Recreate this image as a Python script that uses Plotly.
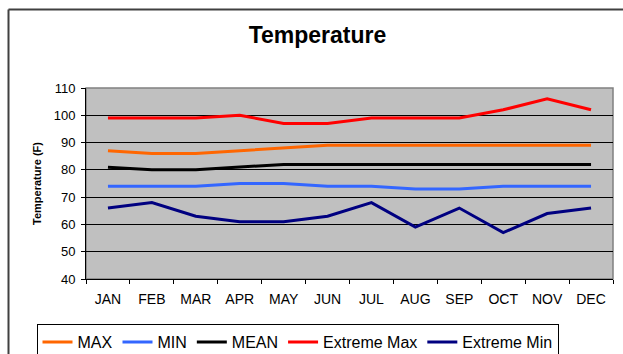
import plotly.graph_objects as go

months = ["JAN", "FEB", "MAR", "APR", "MAY", "JUN", "JUL", "AUG", "SEP", "OCT", "NOV", "DEC"]
t_max = [87, 86, 86, 87, 88, 89, 89, 89, 89, 89, 89, 89]
t_min = [74, 74, 74, 75, 75, 74, 74, 73, 73, 74, 74, 74]
t_mean = [81, 80, 80, 81, 82, 82, 82, 82, 82, 82, 82, 82]
ext_max = [99, 99, 99, 100, 97, 97, 99, 99, 99, 102, 106, 102]
ext_min = [66, 68, 63, 61, 61, 63, 68, 59, 66, 57, 64, 66]

series = [
    ("MAX", t_max, "#FF6600"),
    ("MIN", t_min, "#3366FF"),
    ("MEAN", t_mean, "#000000"),
    ("Extreme Max", ext_max, "#FF0000"),
    ("Extreme Min", ext_min, "#000080"),
]

FONT = "Liberation Sans, Arial, sans-serif"

fig = go.Figure()
for name, vals, col in series:
    fig.add_trace(go.Scatter(x=months, y=vals, name=name, mode="lines",
                             line=dict(color=col, width=3)))

W, H = 623, 354
L, R, T, B = 86, 10, 88, 75
pw, ph = W - L - R, H - T - B

def px_x(x):
    return (x - L) / pw

def px_y(y):
    return (H - B - y) / ph

fig.update_layout(
    width=W, height=H,
    margin=dict(l=L, r=R, t=T, b=B, autoexpand=False),
    paper_bgcolor="white",
    plot_bgcolor="#C0C0C0",
    font=dict(family=FONT, size=12, color="black"),
    title=dict(text="<b>Temperature</b>", x=317.5 / W, xanchor="center",
               y=1 - 27 / H, yanchor="top", font=dict(size=23, family=FONT)),
    showlegend=True,
    legend=dict(orientation="h", xref="container", yref="container",
                x=36.5 / W, xanchor="left", y=1 - 324 / H, yanchor="top",
                bordercolor="black", borderwidth=1, bgcolor="white",
                font=dict(size=16, family=FONT), tracegroupgap=0),
    xaxis=dict(type="category", range=[-0.5, 11.5], showgrid=False, automargin=False,
               ticks="outside", tickson="boundaries", ticklen=4, tickcolor="black",
               showline=True, linecolor="black", linewidth=1, mirror=False,
               ticklabelstandoff=7, tickfont=dict(size=14), fixedrange=True),
    yaxis=dict(range=[40, 110], dtick=10, showgrid=True, gridcolor="black", gridwidth=1,
               ticks="outside", ticklen=4, tickcolor="black", automargin=False,
               showline=True, linecolor="black", linewidth=1, ticklabelstandoff=3,
               zeroline=False, tickfont=dict(size=13),
               title=dict(text="<b>Temperature (F)</b>", font=dict(size=11), standoff=9),
               fixedrange=True),
    shapes=[
        dict(type="rect", xref="paper", yref="paper", x0=0, x1=1, y0=0, y1=1,
             line=dict(color="#808080", width=1.5), fillcolor="rgba(0,0,0,0)", layer="below"),
        dict(type="line", xref="paper", yref="paper", x0=px_x(8.5), x1=px_x(640), y0=px_y(9.5), y1=px_y(9.5),
             line=dict(color="#404040", width=2)),
        dict(type="line", xref="paper", yref="paper", x0=px_x(8.5), x1=px_x(8.5), y0=px_y(9.5), y1=px_y(370),
             line=dict(color="#404040", width=2)),
    ],
)

fig.write_html("out.html", config={"displayModeBar": False},
               post_script="document.body.style.margin='0';document.body.style.overflow='hidden';")
